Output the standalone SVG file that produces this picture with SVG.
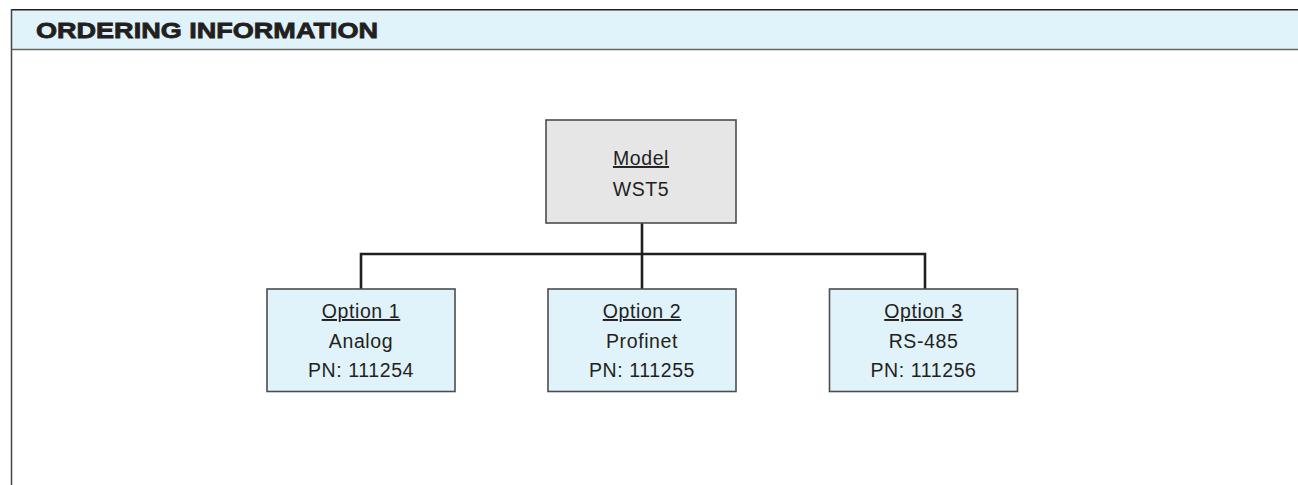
<svg xmlns="http://www.w3.org/2000/svg" width="1298" height="485" viewBox="0 0 1298 485">
<style>
.t{font-family:"Liberation Sans",Arial,Helvetica,sans-serif;font-size:19.5px;letter-spacing:0.6px;fill:#231f20;text-anchor:middle}
.u{text-decoration:underline}
.opt{fill:#e0f2fa;stroke:#4d4d4d;stroke-width:1.6}
.conn{fill:none;stroke:#231f20;stroke-width:2.6}
</style>
<rect width="1298" height="485" fill="#ffffff"/>
<g id="header">
<rect x="11.5" y="10" width="1290" height="39.5" fill="#e0f2fa"/>
<line x1="11" y1="9.7" x2="1298" y2="9.7" stroke="#231f20" stroke-width="1.5"/>
<line x1="11" y1="49.5" x2="1298" y2="49.5" stroke="#666666" stroke-width="1.6"/>
<line x1="11.5" y1="9" x2="11.5" y2="485" stroke="#444444" stroke-width="1.5"/>
<text x="36" y="37.5" font-family="'Liberation Sans',Arial,sans-serif" font-weight="bold" font-size="22.5" fill="#231f20" stroke="#231f20" stroke-width="0.8" textLength="342" lengthAdjust="spacingAndGlyphs">ORDERING INFORMATION</text>
</g>
<g id="connectors">
<path class="conn" d="M642 223 V289 M361 289 V254 H925 V289"/>
</g>
<g id="model">
<rect x="546" y="120" width="190" height="103" fill="#e6e6e6" stroke="#4d4d4d" stroke-width="1.6"/>
<text class="t u" x="641" y="165">Model</text>
<text class="t" x="641" y="196">WST5</text>
</g>
<g id="option1">
<rect class="opt" x="267" y="289" width="188" height="102.5"/>
<text class="t u" x="361" y="318">Option 1</text>
<text class="t" x="361" y="348">Analog</text>
<text class="t" x="361" y="377">PN: 111254</text>
</g>
<g id="option2">
<rect class="opt" x="548" y="289" width="188" height="102.5"/>
<text class="t u" x="642" y="318">Option 2</text>
<text class="t" x="642" y="348">Profinet</text>
<text class="t" x="642" y="377">PN: 111255</text>
</g>
<g id="option3">
<rect class="opt" x="829.5" y="289" width="188" height="102.5"/>
<text class="t u" x="923.5" y="318">Option 3</text>
<text class="t" x="923.5" y="348">RS-485</text>
<text class="t" x="923.5" y="377">PN: 111256</text>
</g>
</svg>
